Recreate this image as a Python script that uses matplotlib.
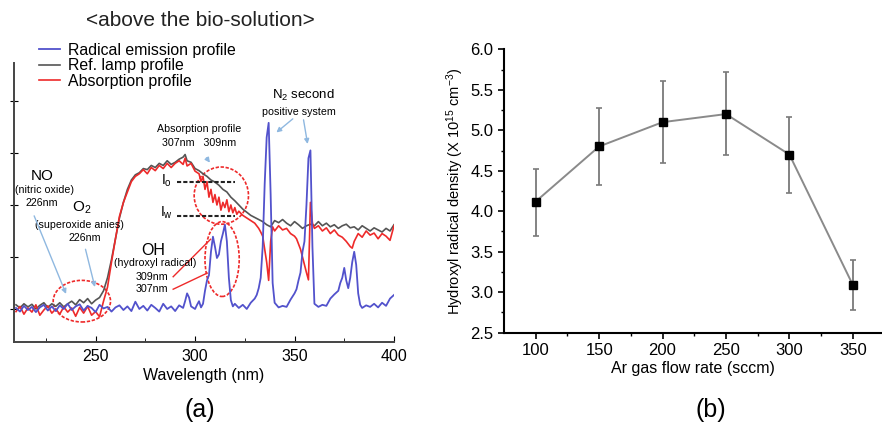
import numpy as np
import matplotlib
matplotlib.use("Agg")
from matplotlib import pyplot as plt
from matplotlib.patches import Ellipse

plt.rcParams["font.family"] = ["Liberation Sans", "DejaVu Sans"]
plt.rcParams["mathtext.fontset"] = "custom"
plt.rcParams["mathtext.rm"] = "Liberation Sans"
plt.rcParams["mathtext.it"] = "Liberation Sans:italic"

# ---- panel (a): spectra (arbitrary units) ----
wl_emis = [210, 212, 214, 216, 218, 220, 222, 224, 226, 228, 230, 232, 234, 236, 238, 240,
           242, 244, 246, 248, 250, 252, 254, 256, 258, 260, 262, 264, 266, 268, 270, 272,
           274, 276, 278, 280, 282, 284, 286, 288, 290, 292, 294, 295, 296, 297, 298, 300,
           301, 302, 303, 304, 305, 306, 307, 308, 309, 310, 311, 312, 313, 314, 315, 316,
           317, 318, 319, 320, 322, 324, 326, 328, 330, 331, 332, 333, 334, 335, 336, 337,
           338, 339, 340, 342, 344, 346, 348, 350, 351, 352, 353, 354, 355, 356, 357, 358,
           359, 360, 362, 364, 366, 368, 370, 372, 373, 374, 375, 376, 377, 378, 379, 380,
           381, 382, 383, 384, 386, 388, 390, 392, 394, 396, 398, 400]
emission = [0.02, -0.05, 0.06, -0.02, 0.04, -0.06, 0.03, 0.08, -0.03, 0.05, -0.04, 0.07, 0.0, 0.1, -0.02, 0.05,
            0.09, -0.03, 0.06, 0.02, -0.06, 0.08, 0.01, 0.04, -0.05, 0.03, 0.07, -0.02, 0.05, -0.04, 0.14, 0.0,
            0.06, -0.03, 0.08, 0.02, -0.05, 0.1, 0.0, 0.05, -0.04, 0.07, 0.02, 0.15, 0.3, 0.22, 0.05, 0.0,
            0.08, 0.15, 0.03, 0.1, 0.35, 0.55, 0.65, 1.1, 1.39, 1.2, 0.98, 1.05, 1.3, 1.45, 1.62, 1.3,
            0.6, 0.17, 0.05, 0.1, 0.02, 0.08, 0.0, 0.12, 0.2, 0.27, 0.4, 0.6, 1.2, 2.4, 3.3, 3.58,
            2.2, 0.5, 0.12, 0.03, 0.06, 0.04, 0.18, 0.3, 0.38, 0.55, 0.7, 1.1, 1.3, 2.0, 2.9, 3.05,
            1.2, 0.1, 0.04, 0.08, 0.06, 0.2, 0.28, 0.35, 0.5, 0.6, 0.79, 0.55, 0.4, 0.6, 0.9, 1.1,
            0.85, 0.3, 0.08, 0.02, 0.07, 0.04, 0.1, 0.03, 0.12, 0.06, 0.2, 0.27]

wl_lamp = [210, 212, 214, 216, 218, 220, 222, 224, 226, 228, 230, 232, 234, 236, 238, 240,
           242, 244, 246, 248, 250, 252, 254, 256, 258, 260, 262, 264, 266, 268, 270, 272,
           274, 276, 278, 280, 282, 284, 286, 288, 290, 292, 294, 295, 296, 298, 300, 302,
           304, 306, 308, 310, 312, 314, 316, 318, 320, 322, 324, 326, 328, 330, 332, 334,
           336, 338, 340, 342, 344, 346, 348, 350, 352, 354, 356, 358, 360, 362, 364, 366,
           368, 370, 372, 374, 376, 378, 380, 382, 384, 386, 388, 390, 392, 394, 396, 398, 400]
lamp = [0.08, 0.02, 0.1, 0.04, 0.09, 0.0, 0.07, 0.12, 0.03, 0.1, 0.05, 0.12, 0.04, 0.1, 0.15, 0.08,
        0.18, 0.12, 0.2, 0.1, 0.17, 0.22, 0.35, 0.6, 0.95, 1.35, 1.75, 2.05, 2.3, 2.48, 2.58, 2.62,
        2.7, 2.68, 2.76, 2.72, 2.8, 2.76, 2.85, 2.78, 2.82, 2.88, 2.92, 2.97, 2.85, 2.82, 2.7, 2.66,
        2.6, 2.55, 2.48, 2.44, 2.38, 2.3, 2.25, 2.15, 2.08, 2.0, 1.92, 1.86, 1.8, 1.76, 1.72, 1.68,
        1.62, 1.58, 1.7, 1.66, 1.72, 1.65, 1.6, 1.68, 1.62, 1.55, 1.6, 1.63, 1.6, 1.68, 1.6, 1.65,
        1.58, 1.62, 1.55, 1.6, 1.63, 1.56, 1.58, 1.52, 1.6, 1.55, 1.5, 1.56, 1.52, 1.48, 1.55, 1.5, 1.62]

wl_abs = [210, 212, 214, 216, 218, 220, 222, 224, 226, 228, 230, 232, 234, 236, 238, 240,
          242, 244, 246, 248, 250, 252, 253, 254, 256, 258, 260, 262, 264, 266, 268, 270,
          272, 274, 276, 278, 280, 282, 284, 286, 288, 290, 292, 294, 295, 296, 298, 300,
          302, 303, 304, 305, 306, 307, 308, 309, 310, 311, 312, 313, 314, 315, 316, 317,
          318, 319, 320, 321, 322, 324, 326, 328, 330, 332, 333, 334, 335, 336, 337, 338,
          339, 340, 342, 344, 346, 348, 350, 351, 352, 353, 354, 355, 356, 357, 358, 359,
          360, 362, 364, 366, 368, 370, 372, 374, 376, 378, 379, 380, 382, 384, 386, 388,
          390, 392, 394, 396, 398, 400]
absorp = [-0.05, 0.05, -0.1, 0.02, -0.06, 0.08, -0.12, -0.02, 0.06, -0.08, 0.0, -0.1, 0.04, -0.06, 0.02, -0.14,
          0.03, -0.08, 0.05, -0.12, -0.05, -0.15, 0.0, 0.15, 0.42, 0.9, 1.35, 1.78, 2.05, 2.25, 2.45, 2.55,
          2.6, 2.68, 2.6, 2.72, 2.66, 2.76, 2.7, 2.8, 2.72, 2.8, 2.85, 2.78, 2.9, 2.75, 2.8, 2.65,
          2.6, 2.45, 2.55, 2.3, 2.45, 2.15, 2.3, 2.05, 2.2, 2.0, 2.15, 1.9, 2.05, 1.95, 2.1, 1.87,
          2.0, 1.85, 1.95, 1.82, 1.88, 1.8, 1.75, 1.7, 1.65, 1.55, 1.48, 1.4, 1.15, 0.9, 0.55, 1.3,
          1.58, 1.5, 1.6, 1.52, 1.55, 1.45, 1.4, 1.35, 1.25, 1.15, 1.0, 0.85, 0.7, 0.56, 2.05, 1.65,
          1.55, 1.6, 1.5, 1.56, 1.45, 1.52, 1.42, 1.38, 1.3, 1.2, 1.17, 1.3, 1.45, 1.38, 1.5, 1.42,
          1.46, 1.35, 1.45, 1.4, 1.32, 1.6]

# ---- panel (b) ----
flow = [100, 150, 200, 250, 300, 350]
oh_density = [4.12, 4.80, 5.10, 5.20, 4.70, 3.09]
err_low = [3.70, 4.32, 4.59, 4.69, 4.23, 2.78]
err_high = [4.52, 5.27, 5.61, 5.72, 5.16, 3.40]

fig = plt.figure(figsize=(8.82, 4.26), dpi=100)

# ================= (a) =================
ax = fig.add_axes([14 / 882, 1 - 342 / 426, 380 / 882, 279 / 426])
l_lamp, = ax.plot(wl_lamp, lamp, color="#555555", lw=1.2, label="Ref. lamp profile")
l_abs, = ax.plot(wl_abs, absorp, color="#ee2a2a", lw=1.2, label="Absorption profile")
l_emis, = ax.plot(wl_emis, emission, color="#5252cc", lw=1.3, label="Radical emission profile")

ax.set_xlim(209, 400)
ax.set_ylim(-0.635, 4.73)
ax.spines["top"].set_visible(False)
ax.spines["right"].set_visible(False)
ax.spines["left"].set_color("#444444")
ax.spines["bottom"].set_color("#444444")
ax.spines["left"].set_linewidth(1.4)
ax.spines["bottom"].set_linewidth(1.4)
ax.set_xticks([250, 300, 350, 400])
ax.set_xticks([225, 275, 325, 375], minor=True)
ax.set_yticks([0, 1, 2, 3, 4])
ax.set_yticklabels([])
ax.tick_params(axis="x", direction="in", length=4, labelsize=11.5, pad=5)
ax.tick_params(axis="x", which="minor", direction="in", length=3)
ax.tick_params(axis="y", direction="inout", length=6)
ax.set_xlabel("Wavelength (nm)", fontsize=11.5, labelpad=3)

fig.legend(handles=[l_emis, l_lamp, l_abs], loc="upper left",
           bbox_to_anchor=(39 / 882, 1 - 43 / 426), frameon=False, fontsize=11.4,
           handlelength=1.3, handletextpad=0.55, labelspacing=0.02, borderpad=0,
           borderaxespad=0)
fig.text(200 / 882, 1 - 20 / 426, "<above the bio-solution>", ha="center", va="center",
         fontsize=15, color="#222222")

arrow_c = "#8fb8e0"
small = 7.7
# NO / O2
ax.text(223, 2.55, "NO", ha="center", va="center", fontsize=11)
ax.text(224.5, 2.29, "(nitric oxide)", ha="center", va="center", fontsize=small)
ax.text(223, 2.03, "226nm", ha="center", va="center", fontsize=small)
ax.text(243, 1.94, r"O$_2$", ha="center", va="center", fontsize=11)
ax.text(242, 1.62, "(superoxide anies)", ha="center", va="center", fontsize=small)
ax.text(244.6, 1.36, "226nm", ha="center", va="center", fontsize=small)
ax.annotate("", xy=(235.7, 0.24), xytext=(218.6, 1.84),
            arrowprops=dict(arrowstyle="-|>", color=arrow_c, lw=1.0, mutation_scale=7))
ax.annotate("", xy=(250, 0.37), xytext=(244.6, 1.2),
            arrowprops=dict(arrowstyle="-|>", color=arrow_c, lw=1.0, mutation_scale=7))
ax.add_patch(Ellipse((243.1, 0.15), 28.8, 0.8, fill=False, ec="#ee2a2a", lw=1.2,
                     ls=(0, (2, 1))))

# OH
ax.text(279, 1.13, "OH", ha="center", va="center", fontsize=11.5)
ax.text(280, 0.88, "(hydroxyl radical)", ha="center", va="center", fontsize=small)
ax.text(278.1, 0.61, "309nm", ha="center", va="center", fontsize=small)
ax.text(278.1, 0.38, "307nm", ha="center", va="center", fontsize=small)
ax.plot([289, 307.8], [0.62, 1.34], color="#ee2a2a", lw=1.0)
ax.plot([289, 306.1], [0.38, 0.69], color="#ee2a2a", lw=1.0)
ax.add_patch(Ellipse((313.6, 0.96), 17.2, 1.44, fill=False, ec="#ee2a2a", lw=1.2,
                     ls=(0, (2, 1))))

# absorption profile
ax.add_patch(Ellipse((313.2, 2.18), 27.3, 1.1, fill=False, ec="#ee2a2a", lw=1.2,
                     ls=(0, (2, 1))))
ax.plot([290.7, 320], [2.44, 2.44], color="#222222", lw=1.5, ls=(0, (2, 1)))
ax.plot([290.7, 320], [1.79, 1.79], color="#222222", lw=1.5, ls=(0, (2, 1)))
ax.text(285.7, 2.46, r"$\mathregular{I_o}$", ha="center", va="center", fontsize=10)
ax.text(285.7, 1.84, r"$\mathregular{I_w}$", ha="center", va="center", fontsize=10)
ax.text(301.9, 3.46, "Absorption profile", ha="center", va="center", fontsize=small)
ax.text(302, 3.2, "307nm   309nm", ha="center", va="center", fontsize=small)
ax.annotate("", xy=(308.3, 2.77), xytext=(304.9, 2.95),
            arrowprops=dict(arrowstyle="-|>", color=arrow_c, lw=1.0, mutation_scale=7))

# N2
ax.text(354.4, 4.1, r"N$_2$ second", ha="center", va="center", fontsize=9.5)
ax.text(352.3, 3.78, "positive system", ha="center", va="center", fontsize=small)
ax.annotate("", xy=(339.8, 3.36), xytext=(350.2, 3.69),
            arrowprops=dict(arrowstyle="-|>", color=arrow_c, lw=1.0, mutation_scale=7))
ax.annotate("", xy=(356.8, 3.12), xytext=(354.3, 3.69),
            arrowprops=dict(arrowstyle="-|>", color=arrow_c, lw=1.0, mutation_scale=7))

fig.text(200 / 882, 1 - 410 / 426, "(a)", ha="center", va="center", fontsize=18)

# ================= (b) =================
bx = fig.add_axes([504 / 882, 1 - 332.7 / 426, 378 / 882, 283.4 / 426])
yerr = [np.array(oh_density) - np.array(err_low), np.array(err_high) - np.array(oh_density)]
bx.errorbar(flow, oh_density, yerr=yerr, fmt="none", ecolor="#7a7a7a", elinewidth=1.3,
            capsize=2.5, capthick=1.2)
bx.plot(flow, oh_density, color="#8a8a8a", lw=1.4, marker="s", markersize=5.5,
        markerfacecolor="black", markeredgecolor="black")
bx.set_xlim(75, 373)
bx.set_ylim(2.5, 6.0)
bx.spines["top"].set_visible(False)
bx.spines["right"].set_visible(False)
bx.spines["left"].set_linewidth(1.5)
bx.spines["bottom"].set_linewidth(1.5)
bx.set_xticks([100, 150, 200, 250, 300, 350])
bx.set_xticks([125, 175, 225, 275, 325], minor=True)
bx.set_yticks([2.5, 3.0, 3.5, 4.0, 4.5, 5.0, 5.5, 6.0])
bx.set_yticks([2.75, 3.25, 3.75, 4.25, 4.75, 5.25, 5.75], minor=True)
bx.tick_params(axis="both", which="major", direction="out", length=4, width=1.2,
               labelsize=12)
bx.tick_params(axis="both", which="minor", direction="out", length=2.5, width=1.0)
bx.set_xlabel("Ar gas flow rate (sccm)", fontsize=11.5, labelpad=2)
bx.set_ylabel(r"Hydroxyl radical density (X 10$^{15}$ cm$^{-3}$)", fontsize=10.5, labelpad=3)

fig.text(711 / 882, 1 - 410 / 426, "(b)", ha="center", va="center", fontsize=18)

fig.savefig("out.png", dpi=100)
